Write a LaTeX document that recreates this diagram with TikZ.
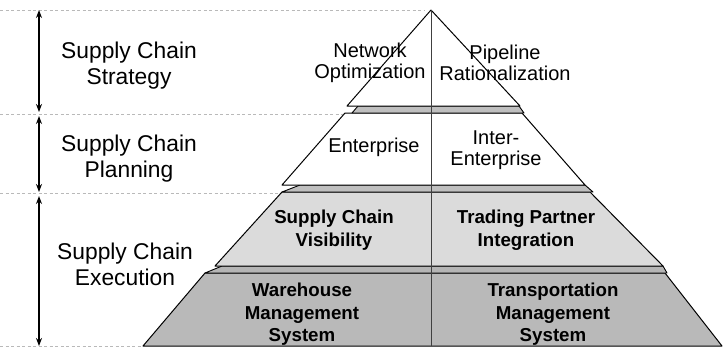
\documentclass[tikz,border=0pt]{standalone}
\usepackage{fontspec}
\setmainfont{Liberation Sans}
\usetikzlibrary{arrows.meta}
\begin{document}
\begin{tikzpicture}[x=1pt,y=-1pt,
  lbl/.style={align=center,font=\fontsize{22.8}{26}\selectfont,inner sep=0pt},
  pl/.style={align=center,font=\fontsize{20}{21}\selectfont,inner sep=0pt},
  pb/.style={align=center,font=\bfseries\fontsize{18.7}{23.5}\selectfont,inner sep=0pt},
  pbb/.style={align=center,font=\bfseries\fontsize{18.7}{22.5}\selectfont,inner sep=0pt},
  face/.style={draw=black,line width=1pt,line join=round},
  band/.style={draw=black,line width=0.9pt,line join=round},
  guide/.style={draw=gray!55,line width=0.6pt,dash pattern=on 3pt off 2.5pt},
  span/.style={draw=black,line width=1.6pt,{Stealth[length=8pt,width=6pt]}-{Stealth[length=8pt,width=6pt]}},
  divider/.style={draw=black!75,line width=0.7pt}]
\useasboundingbox (0,0) rectangle (723,349);
% guide lines
\draw[guide] (0,10) -- (425,10);
\draw[guide] (0,114) -- (343,114);
\draw[guide] (0,193) -- (280,193);
\draw[guide] (0,346.5) -- (143,346.5);
% level 4
\draw[face,fill=gray!55] (205,273) -- (665,273) -- (722,346) -- (143,346) -- cycle;
% band 3
\draw[band,fill=gray!58] (222,266) -- (663,266) -- (667,273) -- (205,273) -- cycle;
% level 3
\draw[face,fill=gray!28] (282,192) -- (590,192) -- (663,266) -- (215,266) -- cycle;
% band 2
\draw[band,fill=gray!50] (300,185) -- (585,185) -- (593,192) -- (282,192) -- cycle;
% level 2
\draw[face,fill=white] (345,113) -- (522,113) -- (585,185) -- (282,185) -- cycle;
% band 1
\draw[band,fill=gray!50] (358,106) -- (519,106) -- (524,113) -- (352,113) -- cycle;
% level 1
\draw[face,fill=white] (431,10) -- (520,106) -- (347,106) -- cycle;
% divider
\coordinate (apex) at (431,10);
\coordinate (base) at (431,346);
\draw[divider] (apex) -- (base);
% arrows
\coordinate (a1t) at (39,10);
\coordinate (a1b) at (39,112);
\coordinate (a2t) at (39,116);
\coordinate (a2b) at (39,192);
\coordinate (a3t) at (39,196);
\coordinate (a3b) at (39,346);
\draw[span] (a1t) -- (a1b);
\draw[span] (a2t) -- (a2b);
\draw[span] (a3t) -- (a3b);
% left labels
\node[lbl] (strat) at (129,66) {Supply Chain\\Strategy};
\node[lbl] (plan) at (129,158.5) {Supply Chain\\Planning};
\node[lbl] (exec) at (125,264.5) {Supply Chain\\Execution};
% pyramid labels
\node[pl] (netopt) at (370,63) {Network\\Optimization};
\node[pl] (pipe) at (505,63) {Pipeline\\Rationalization};
\node[pl] (ent) at (374,147) {Enterprise};
\node[pl] (inter) at (496,150.5) {Inter-\\Enterprise};
\node[pb] (vis) at (334,230) {Supply Chain\\Visibility};
\node[pb] (trade) at (526,230) {Trading Partner\\Integration};
\node[pbb] (wms) at (302,314.5) {Warehouse\\Management\\System};
\node[pbb] (tms) at (553,314.5) {Transportation\\Management\\System};
\end{tikzpicture}
\end{document}
